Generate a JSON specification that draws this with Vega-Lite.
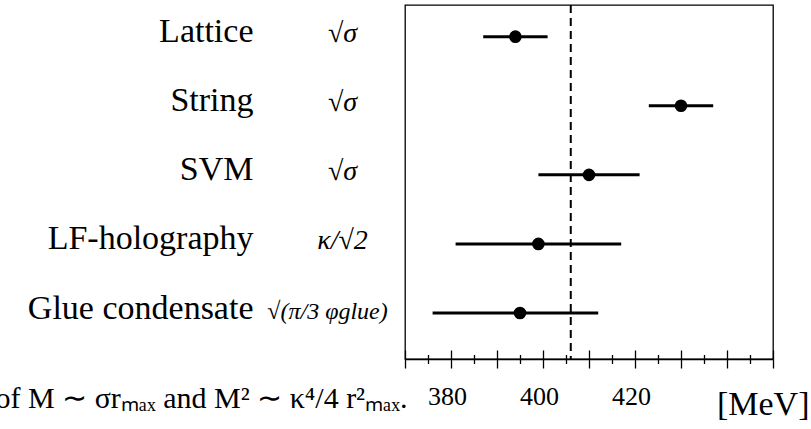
{
  "$schema": "https://vega.github.io/schema/vega-lite/v6.json",
  "autosize": {"type": "none"},
  "width": 368,
  "height": 354,
  "padding": {"left": 405, "top": 5, "right": 38, "bottom": 70},
  "background": "white",
  "data": {
    "values": [
      {"name": "Lattice", "value": 394, "lo": 387, "hi": 401},
      {"name": "String", "value": 430, "lo": 423, "hi": 437},
      {"name": "SVM", "value": 410, "lo": 399, "hi": 421},
      {"name": "LF-holography", "value": 399, "lo": 381, "hi": 417},
      {"name": "Glue condensate", "value": 395, "lo": 376, "hi": 412}
    ]
  },
  "layer": [
    {
      "mark": {"type": "rule", "color": "black", "strokeWidth": 1.3, "strokeDash": [8, 5]},
      "encoding": {
        "x": {
          "datum": 406, "type": "quantitative",
          "scale": {"domain": [370, 450], "nice": false, "zero": false},
          "axis": {
            "orient": "bottom", "grid": false, "values": [380, 400, 420],
            "domain": false, "ticks": false, "tickSize": 0,
            "labelFont": "Liberation Serif", "labelFontSize": 26, "labelColor": "black",
            "labelPadding": 45, "labelOffset": -4, "labelBaseline": "alphabetic", "labelFlush": false,
            "title": "[MeV]", "titleFont": "Liberation Serif", "titleFontSize": 34, "titleFontWeight": "normal",
            "titleColor": "black", "titleX": 404, "titleY": 55, "titleAlign": "right", "titleBaseline": "alphabetic", "titleAnchor": null
          }
        }
      }
    },
    {
      "mark": {"type": "rule", "color": "black", "strokeWidth": 3},
      "encoding": {
        "y": {
          "field": "name", "type": "nominal", "sort": null,
          "scale": {"type": "point", "padding": 0.5624, "align": 0.408},
          "axis": {
            "orient": "left", "title": null, "domain": false, "ticks": false, "tickSize": 0,
            "labelPadding": 152, "labelAlign": "right", "labelBaseline": "alphabetic", "labelOffset": 5,
            "labelFont": "Liberation Serif", "labelFontSize": 34, "labelColor": "black", "labelLimit": 400
          }
        },
        "x": {
          "field": "lo", "type": "quantitative",
          "scale": {"domain": [370, 450], "nice": false, "zero": false},
          "axis": {
            "orient": "bottom", "grid": false,
            "values": [370, 375, 380, 385, 390, 395, 400, 405, 410, 415, 420, 425, 430, 435, 440, 445, 450],
            "domain": true, "domainColor": "black", "domainWidth": 1.3,
            "ticks": true, "tickColor": "black", "tickWidth": 1.3,
            "tickSize": {"condition": {"test": "datum.value % 10 === 0", "value": 9}, "value": 4.5},
            "labels": false, "title": null
          }
        },
        "x2": {"field": "hi"}
      }
    },
    {
      "mark": {"type": "circle", "color": "black", "opacity": 1, "size": 160},
      "encoding": {
        "y": {
          "field": "name", "type": "nominal", "sort": null,
          "scale": {"type": "point", "padding": 0.5624, "align": 0.408},
          "axis": {
            "orient": "left", "title": null, "domain": false, "ticks": false, "tickSize": 0,
            "labelPadding": {"condition": {"test": "datum.value === 'Glue condensate'", "value": 78}, "value": 63},
            "labelAlign": "center", "labelBaseline": "alphabetic", "labelOffset": 5,
            "labelExpr": "{'Lattice': '√σ', 'String': '√σ', 'SVM': '√σ', 'LF-holography': 'κ/√2', 'Glue condensate': '√(π/3 φglue)'}[datum.value]",
            "labelFont": "Liberation Serif",
            "labelFontStyle": "italic",
            "labelFontSize": {"condition": {"test": "datum.value === 'Glue condensate'", "value": 24}, "value": 28},
            "labelColor": "black", "labelLimit": 300
          }
        },
        "x": {
          "field": "value", "type": "quantitative",
          "scale": {"domain": [370, 450], "nice": false, "zero": false},
          "axis": {
            "orient": "bottom", "grid": false,
            "values": [370, 375, 380, 385, 390, 395, 400, 405, 410, 415, 420, 425, 430, 435, 440, 445, 450],
            "domain": false, "labels": false,
            "ticks": true, "tickColor": "black", "tickWidth": 1.3,
            "tickSize": {"condition": {"test": "datum.value % 10 === 0", "value": -9}, "value": -4.5},
            "title": "of M ∼ σrₘₐₓ and M² ∼ κ⁴/4 r²ₘₐₓ.", "titleFont": "Liberation Serif", "titleFontSize": 30, "titleFontWeight": "normal",
            "titleColor": "black", "titleX": -410, "titleY": 48, "titleAlign": "left", "titleBaseline": "alphabetic", "titleAnchor": null
          }
        }
      }
    }
  ],
  "resolve": {"scale": {"x": "shared", "y": "shared"}, "axis": {"x": "independent", "y": "independent"}},
  "config": {
    "view": {"stroke": "black", "strokeWidth": 1.3},
    "font": "Liberation Serif",
    "axis": {"labelFont": "Liberation Serif", "titleFont": "Liberation Serif"},
    "text": {"font": "Liberation Serif"}
  }
}
